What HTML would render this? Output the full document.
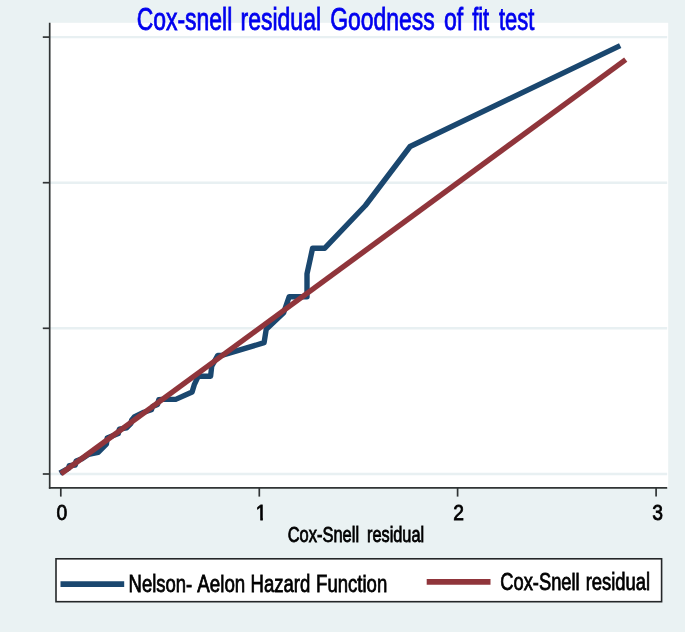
<!DOCTYPE html>
<html>
<head>
<meta charset="utf-8">
<title>Cox-snell residual Goodness of fit test</title>
<style>
html,body{margin:0;padding:0;background:#eaf2f3;}
body{width:685px;height:632px;overflow:hidden;}
svg{display:block;}
text{font-family:"Liberation Sans",sans-serif;fill:#000;}
</style>
</head>
<body>
<svg width="685" height="632" viewBox="0 0 685 632">
  <defs><clipPath id="c1"><rect x="0" y="-20" width="12" height="17.6"/><rect x="5.2" y="-3" width="2.9" height="3.6"/></clipPath></defs>
  <rect x="0" y="0" width="685" height="632" fill="#eaf2f3"/>
  <!-- plot region -->
  <rect x="50" y="22.8" width="618.2" height="465" fill="#ffffff"/>
  <!-- grid lines -->
  <g stroke="#e8f0f2" stroke-width="2.4">
    <line x1="50" y1="37.1" x2="667.2" y2="37.1"/>
    <line x1="50" y1="182.7" x2="667.2" y2="182.7"/>
    <line x1="50" y1="328.3" x2="667.2" y2="328.3"/>
    <line x1="50" y1="474" x2="667.2" y2="474"/>
  </g>
  <!-- title -->
  <text transform="translate(136.70,29.7) scale(0.7499,1)" font-size="30.6" style="fill:#0000ee;stroke:#0000ee;stroke-width:0.8">Cox-snell</text>
  <text transform="translate(240.56,29.7) scale(0.7513,1)" font-size="30.6" style="fill:#0000ee;stroke:#0000ee;stroke-width:0.8">residual</text>
  <text transform="translate(330.16,29.7) scale(0.7495,1)" font-size="30.6" style="fill:#0000ee;stroke:#0000ee;stroke-width:0.8">Goodness</text>
  <text transform="translate(443.92,29.7) scale(0.7516,1)" font-size="30.6" style="fill:#0000ee;stroke:#0000ee;stroke-width:0.8">of</text>
  <text transform="translate(472.17,29.7) scale(0.7143,1)" font-size="30.6" style="fill:#0000ee;stroke:#0000ee;stroke-width:0.8">fit</text>
  <text transform="translate(498.94,29.7) scale(0.7176,1)" font-size="30.6" style="fill:#0000ee;stroke:#0000ee;stroke-width:0.8">test</text>
  <!-- series -->
  <polyline fill="none" stroke="#1a476f" stroke-width="5.4" stroke-linejoin="round" points="59.8,473.2 68.4,468.4 69.3,465.6 75.2,465 76.2,461 82,458.8 88.7,454.3 98.2,452.4 106.4,444.2 107.2,438 118.3,433.6 119.4,429.2 126.6,427.8 130.8,423.6 131.6,420.3 134.7,416.6 143.9,412.2 151.4,409.8 152.6,406.4 157.5,404.4 158.8,399.8 162,399.4 175.7,399.4 192.1,392 194.2,384.9 198.3,376.2 210.6,376.2 211.7,366.3 217.8,355.4 222.5,355.2 264.1,342.7 266.2,329.3 283.6,312.9 289.2,296.7 307,296.7 307,273.8 312.6,248.2 324.8,248.2 365.4,205.5 410.1,146.5 620.2,45.6"/>
  <polyline fill="none" stroke="#90353b" stroke-width="5.4" points="61,473.8 625.7,59.6"/>
  <!-- axes -->
  <g stroke="#303435" stroke-width="1.7" fill="none">
    <line x1="49.7" y1="22.8" x2="49.7" y2="488.7"/>
    <line x1="48.9" y1="487.9" x2="667.2" y2="487.9"/>
    <line x1="42.8" y1="37.1" x2="49.7" y2="37.1"/>
    <line x1="42.8" y1="182.7" x2="49.7" y2="182.7"/>
    <line x1="42.8" y1="328.3" x2="49.7" y2="328.3"/>
    <line x1="42.8" y1="474" x2="49.7" y2="474"/>
    <line x1="60.8" y1="487.9" x2="60.8" y2="496.6"/>
    <line x1="259.3" y1="487.9" x2="259.3" y2="496.6"/>
    <line x1="457.6" y1="487.9" x2="457.6" y2="496.6"/>
    <line x1="656.1" y1="487.9" x2="656.1" y2="496.6"/>
  </g>
  <!-- tick labels -->
  <text transform="translate(56.40,520.4) scale(0.8600,1)" font-size="22.5" style="fill:#000;stroke:#000;stroke-width:0.8">0</text>
  <text transform="translate(255.84,520.4) scale(0.8600,1)" clip-path="url(#c1)" font-size="22.5" style="fill:#000;stroke:#000;stroke-width:0.8">1</text>
  <text transform="translate(453.20,520.4) scale(0.8600,1)" font-size="22.5" style="fill:#000;stroke:#000;stroke-width:0.8">2</text>
  <text transform="translate(652.14,520.4) scale(0.8600,1)" font-size="22.5" style="fill:#000;stroke:#000;stroke-width:0.8">3</text>
  <!-- x title -->
  <text transform="translate(287.70,541.9) scale(0.7560,1)" font-size="21.8" style="fill:#000;stroke:#000;stroke-width:0.8">Cox-Snell</text>
  <text transform="translate(367.00,541.9) scale(0.7482,1)" font-size="21.8" style="fill:#000;stroke:#000;stroke-width:0.8">residual</text>
  <!-- legend -->
  <rect x="56" y="558.8" width="605.6" height="42.9" fill="#ffffff" stroke="#242728" stroke-width="1.6"/>
  <line x1="60.5" y1="584.2" x2="124.2" y2="584.2" stroke="#1a476f" stroke-width="5.7"/>
  <text transform="translate(128.62,592.0) scale(0.7540,1)" font-size="24.5" style="fill:#000;stroke:#000;stroke-width:0.8">Nelson-</text>
  <text transform="translate(197.37,592.0) scale(0.7641,1)" font-size="24.5" style="fill:#000;stroke:#000;stroke-width:0.8">Aelon</text>
  <text transform="translate(250.62,592.0) scale(0.7556,1)" font-size="24.5" style="fill:#000;stroke:#000;stroke-width:0.8">Hazard</text>
  <text transform="translate(316.10,592.0) scale(0.7572,1)" font-size="24.5" style="fill:#000;stroke:#000;stroke-width:0.8">Function</text>
  <line x1="426.7" y1="581.8" x2="490.5" y2="581.8" stroke="#90353b" stroke-width="5.7"/>
  <text transform="translate(500.28,589.6) scale(0.7477,1)" font-size="24.5" style="fill:#000;stroke:#000;stroke-width:0.8">Cox-Snell</text>
  <text transform="translate(585.67,589.6) scale(0.7520,1)" font-size="24.5" style="fill:#000;stroke:#000;stroke-width:0.8">residual</text>
</svg>
</body>
</html>
